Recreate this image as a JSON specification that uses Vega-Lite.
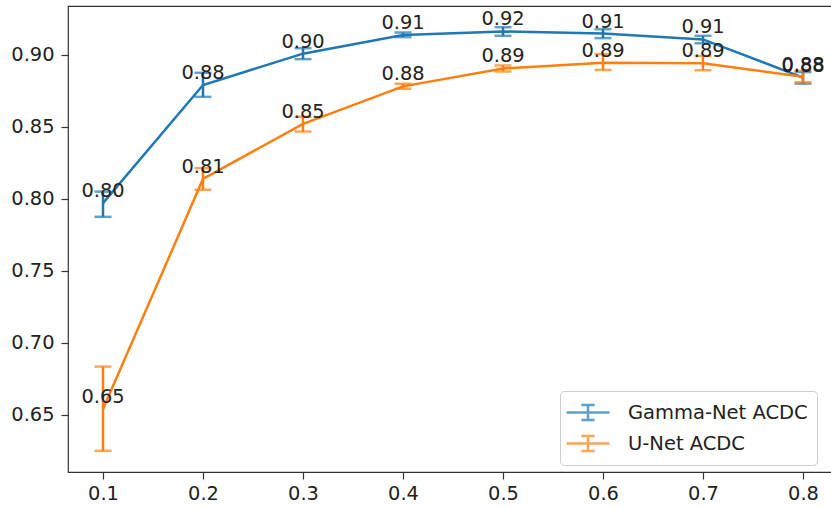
{
  "$schema": "https://vega.github.io/schema/vega-lite/v6.json",
  "width": 770,
  "height": 466,
  "autosize": {"type": "none"},
  "padding": {"left": 68, "top": 6, "right": 0, "bottom": 36},
  "background": "white",
  "config": {
    "font": "DejaVu Sans",
    "view": {"stroke": "#333333", "strokeWidth": 1.2},
    "axis": {
      "domain": false,
      "grid": false,
      "ticks": true,
      "tickColor": "#333333",
      "tickSize": 7,
      "tickWidth": 1.2,
      "labelFont": "DejaVu Sans",
      "labelFontSize": 19.4,
      "labelColor": "#222222",
      "title": null
    }
  },
  "data": {
    "values": [
      {"ratio": 0.1, "model": "Gamma-Net ACDC", "mean": 0.797, "lo": 0.7875, "hi": 0.805},
      {"ratio": 0.2, "model": "Gamma-Net ACDC", "mean": 0.879, "lo": 0.8708, "hi": 0.8875},
      {"ratio": 0.3, "model": "Gamma-Net ACDC", "mean": 0.9008, "lo": 0.897, "hi": 0.9046},
      {"ratio": 0.4, "model": "Gamma-Net ACDC", "mean": 0.9138, "lo": 0.9123, "hi": 0.9155},
      {"ratio": 0.5, "model": "Gamma-Net ACDC", "mean": 0.9162, "lo": 0.9132, "hi": 0.9192},
      {"ratio": 0.6, "model": "Gamma-Net ACDC", "mean": 0.9148, "lo": 0.9116, "hi": 0.9178},
      {"ratio": 0.7, "model": "Gamma-Net ACDC", "mean": 0.9107, "lo": 0.908, "hi": 0.9132},
      {"ratio": 0.8, "model": "Gamma-Net ACDC", "mean": 0.8842, "lo": 0.88, "hi": 0.888},
      {"ratio": 0.1, "model": "U-Net ACDC", "mean": 0.654, "lo": 0.625, "hi": 0.6835},
      {"ratio": 0.2, "model": "U-Net ACDC", "mean": 0.8138, "lo": 0.8063, "hi": 0.8213},
      {"ratio": 0.3, "model": "U-Net ACDC", "mean": 0.852, "lo": 0.8467, "hi": 0.857},
      {"ratio": 0.4, "model": "U-Net ACDC", "mean": 0.8781, "lo": 0.8764, "hi": 0.8799},
      {"ratio": 0.5, "model": "U-Net ACDC", "mean": 0.8905, "lo": 0.8884, "hi": 0.8926},
      {"ratio": 0.6, "model": "U-Net ACDC", "mean": 0.8945, "lo": 0.8895, "hi": 0.9005},
      {"ratio": 0.7, "model": "U-Net ACDC", "mean": 0.8942, "lo": 0.8893, "hi": 0.8992},
      {"ratio": 0.8, "model": "U-Net ACDC", "mean": 0.8848, "lo": 0.881, "hi": 0.8888}
    ]
  },
  "encoding": {
    "x": {
      "field": "ratio",
      "type": "quantitative",
      "scale": {"domain": [0.065, 0.835], "nice": false, "zero": false},
      "axis": {"values": [0.1, 0.2, 0.3, 0.4, 0.5, 0.6, 0.7, 0.8], "format": ".1f", "labelPadding": 5}
    },
    "color": {
      "field": "model",
      "type": "nominal",
      "scale": {"domain": ["Gamma-Net ACDC", "U-Net ACDC"], "range": ["#1f77b4", "#ff7f0e"]},
      "legend": {
        "title": null,
        "orient": "none",
        "legendX": 492,
        "legendY": 385,
        "padding": 9,
        "fillColor": "rgba(255,255,255,0.85)",
        "strokeColor": "#cccccc",
        "cornerRadius": 4,
        "labelFont": "DejaVu Sans",
        "labelFontSize": 19.5,
        "labelColor": "#222222",
        "labelLimit": 400,
        "labelOffset": 34,
        "rowPadding": 6,
        "symbolType": "M-1.36,0H2.55M0.59,-0.68V0.68M-0.01,-0.68H1.19M-0.01,0.68H1.19",
        "symbolSize": 484,
        "symbolStrokeWidth": 2.5,
        "symbolFillColor": "transparent"
      }
    }
  },
  "layer": [
    {
      "mark": {"type": "rule", "strokeWidth": 2.5},
      "encoding": {
        "y": {
          "field": "lo",
          "type": "quantitative",
          "scale": {"domain": [0.6103, 0.9339], "nice": false, "zero": false},
          "axis": {"values": [0.65, 0.7, 0.75, 0.8, 0.85, 0.9], "format": ".2f", "labelPadding": 7}
        },
        "y2": {"field": "hi"}
      }
    },
    {
      "mark": {"type": "tick", "orient": "horizontal", "size": 17, "thickness": 2.5},
      "encoding": {"y": {"field": "lo", "type": "quantitative"}}
    },
    {
      "mark": {"type": "tick", "orient": "horizontal", "size": 17, "thickness": 2.5},
      "encoding": {"y": {"field": "hi", "type": "quantitative"}}
    },
    {
      "mark": {"type": "line", "strokeWidth": 2.5},
      "encoding": {
        "y": {"field": "mean", "type": "quantitative"}
      }
    },
    {
      "mark": {"type": "text", "baseline": "alphabetic", "dy": -6, "fontSize": 19.4},
      "encoding": {
        "y": {"field": "mean", "type": "quantitative"},
        "text": {"field": "mean", "type": "quantitative", "format": ".2f"},
        "color": {"value": "#222222"}
      }
    }
  ]
}
